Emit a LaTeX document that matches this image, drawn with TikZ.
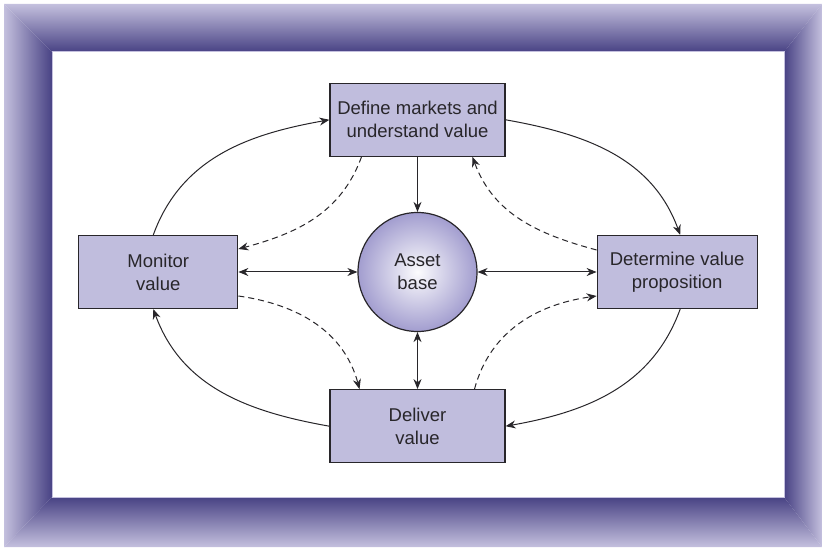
\documentclass[tikz,border=0pt]{standalone}
\usepackage{fontspec}
\setmainfont{Liberation Sans}
\usetikzlibrary{arrows.meta, positioning}

\definecolor{framedark}{RGB}{72,66,132}
\definecolor{framelight}{RGB}{196,192,222}
\definecolor{boxfill}{RGB}{192,189,221}
\definecolor{ballrim}{RGB}{162,157,207}
\definecolor{inkgray}{RGB}{40,38,42}

\begin{document}
\begin{tikzpicture}[
    x=1pt, y=1pt,
    node distance=55pt and 119pt,
    color=inkgray, line width=1pt,
    box/.style={draw=inkgray, line width=1.2pt, fill=boxfill, align=center, minimum height=73pt, text=inkgray, font=\fontsize{18.5}{23}\selectfont},
    ball/.style={circle, draw=inkgray, line width=1.2pt, inner color=white!95!boxfill, outer color=ballrim, minimum size=119pt, align=center, text=inkgray, font=\fontsize{18.5}{23}\selectfont},
    hint/.style={dash pattern=on 6pt off 4pt},
    >={Stealth[length=10pt, width=8pt]}
]

\useasboundingbox (0,0) rectangle (822,547);
\shade[top color=framelight, bottom color=framedark] (4,543) -- (822,543) -- (784,495) -- (52,495) -- cycle;
\shade[top color=framedark, bottom color=framelight] (4,0) -- (822,0) -- (784,50) -- (52,50) -- cycle;
\shade[left color=framelight, right color=framedark] (4,0) -- (4,543) -- (52,495) -- (52,50) -- cycle;
\shade[left color=framedark, right color=framelight] (822,0) -- (822,543) -- (784,495) -- (784,50) -- cycle;
\draw[draw=framelight, fill=white] (52,50) rectangle (784,495);

\node[ball] (asset) at (417.5,275) {Asset\\base};
\node[box, minimum width=175pt, above=of asset] (define) {Define markets and\\understand value};
\node[box, minimum width=175pt, below=57pt of asset] (deliver) {Deliver\\value};
\node[box, minimum width=159pt, left=of asset] (monitor) {Monitor\\value};
\node[box, minimum width=160pt, right=of asset] (determine) {Determine value\\proposition};

\draw[->] (define) -- (asset);
\draw[<->] (monitor) -- (asset);
\draw[<->] (asset) -- (determine);
\draw[<->] (asset) -- (deliver);

\draw[->] ([xshift=-5pt]monitor.north) to[out=70, in=190] (define.west);
\draw[->] (define.east) to[out=-10, in=110] ([xshift=3pt]determine.north);
\draw[->] ([xshift=3pt]determine.south) to[out=-110, in=10] (deliver.east);
\draw[->] (deliver.west) to[out=170, in=-70] ([xshift=-5pt]monitor.south);

\draw[->, hint] ([xshift=-56pt]define.south) to[out=-110, in=15] ([yshift=23pt]monitor.east);
\draw[->, hint] ([yshift=-24pt]monitor.east) to[out=-8, in=105] ([xshift=-58pt]deliver.north);
\draw[->, hint] ([yshift=22pt]determine.west) to[out=165, in=-70] ([xshift=55pt]define.south);
\draw[->, hint] ([xshift=57pt]deliver.north) to[out=75, in=188] ([yshift=-24pt]determine.west);

\end{tikzpicture}
\end{document}
